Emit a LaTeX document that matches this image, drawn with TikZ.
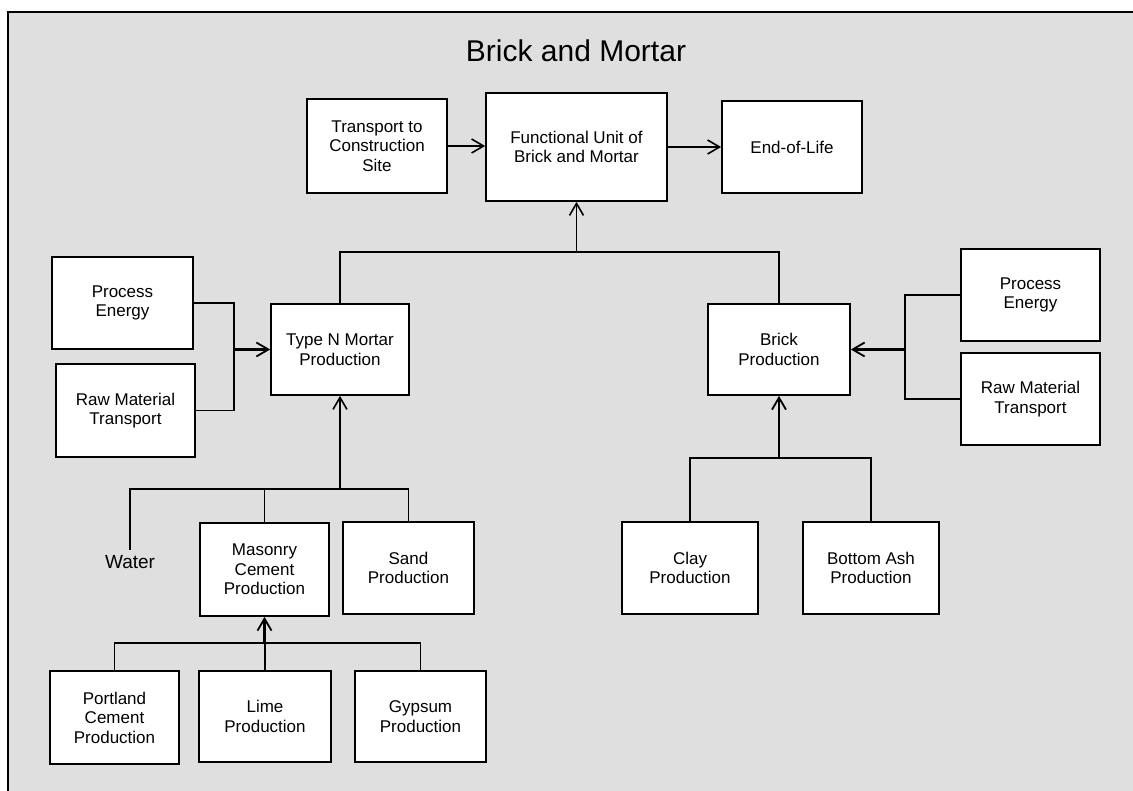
\documentclass[tikz,border=0pt]{standalone}
\usepackage{fontspec}
\setmainfont{Liberation Sans}
\usetikzlibrary{arrows.meta}
\definecolor{bg}{RGB}{223,223,223}
\begin{document}
\begin{tikzpicture}[x=1pt,y=-1pt,
  box/.style={draw=black, fill=white, line width=1.7pt, align=center,
              font=\fontsize{17}{19.5}\selectfont, inner sep=0pt},
  sz/.style 2 args={minimum width=#1pt, minimum height=#2pt},
  conn/.style={line width=1.6pt, draw=black},
  arr/.style={conn, -{Straight Barb[length=12pt,width=14pt]}},
  thickarr/.style={line width=2.3pt, draw=black, -{Straight Barb[length=12pt,width=14pt,line width=1.8pt]}}]
\useasboundingbox (0,0) rectangle (1133,791);
\fill[bg] (8,12) rectangle (1140,800);
\draw[line width=1.6pt] (8,800) -- (8,12) -- (1140,12);

\node[font=\fontsize{30}{36}\selectfont, anchor=base] (title) at (576,62) {Brick and Mortar};

\node[box, sz={140}{94}]  (tcs)   at (377,146)    {Transport to\\Construction\\Site};
\node[box, sz={181}{108}] (fu)    at (576.5,147)  {Functional Unit of\\Brick and Mortar};
\node[box, sz={140}{92}]  (eol)   at (792,147)    {End-of-Life};
\node[box, sz={141}{92}]  (pe1)   at (122.5,303)  {Process\\Energy};
\node[box, sz={139}{93}]  (rm1)   at (125.5,410.5){Raw Material\\Transport};
\node[box, sz={138}{91}]  (mort)  at (340,349.5)  {Type N Mortar\\Production};
\node[box, sz={142}{91}]  (brick) at (779,349.5)  {Brick\\Production};
\node[box, sz={139}{92}]  (pe2)   at (1030.5,295) {Process\\Energy};
\node[box, sz={139}{92}]  (rm2)   at (1030.5,399) {Raw Material\\Transport};
\node[box, sz={129}{93}]  (mas)   at (264.5,569.5){Masonry\\Cement\\Production};
\node[box, sz={131}{92}]  (sand)  at (408.5,568)  {Sand\\Production};
\node[box, sz={136}{92}]  (clay)  at (690,568)    {Clay\\Production};
\node[box, sz={136}{92}]  (ash)   at (871,568)    {Bottom Ash\\Production};
\node[box, sz={129}{93}]  (port)  at (114.5,717.5){Portland\\Cement\\Production};
\node[box, sz={132}{91}]  (lime)  at (265,716.5)  {Lime\\Production};
\node[box, sz={131}{91}]  (gyp)   at (420.5,716.5){Gypsum\\Production};
\node[font=\fontsize{19}{22}\selectfont, inner sep=5pt, anchor=base] (water) at (130,568) {Water};

% top row
\draw[arr] (tcs.east) -- (tcs.east -| fu.west);
\draw[arr] (fu.east) -- (fu.east -| eol.west);
\coordinate (j1) at (576.5,252);
\draw[conn] (mort.north) |- (j1) -| (brick.north);
\draw[arr] (j1) -- (fu.south);

% left inputs
\coordinate (b1) at (234,349.5);
\draw[conn] (pe1.east) -| (b1);
\draw[conn] (rm1.east) -| (b1);
\draw[thickarr] (b1) -- (mort.west);

% right inputs
\coordinate (b2) at (905,349.5);
\draw[conn] (pe2.west) -| (b2);
\draw[conn] (rm2.west) -| (b2);
\draw[thickarr] (b2) -- (brick.east);

% mortar inputs
\coordinate (j2) at (340,489);
\draw[conn] (water.north) |- (sand.north |- j2) -- (sand.north);
\draw[conn] (mas.north) -- (mas.north |- j2);
\draw[arr] (j2) -- (mort.south);

% masonry inputs
\coordinate (j3) at (264.5,643);
\draw[conn] (port.north) |- (j3) -| (gyp.north);
\draw[conn] (lime.north) -- (lime.north |- j3);
\draw[thickarr] (j3) -- (mas.south);

% brick inputs
\coordinate (j4) at (779,458);
\draw[conn] (clay.north) |- (j4) -| (ash.north);
\draw[thickarr] (j4) -- (brick.south);
\end{tikzpicture}
\end{document}
